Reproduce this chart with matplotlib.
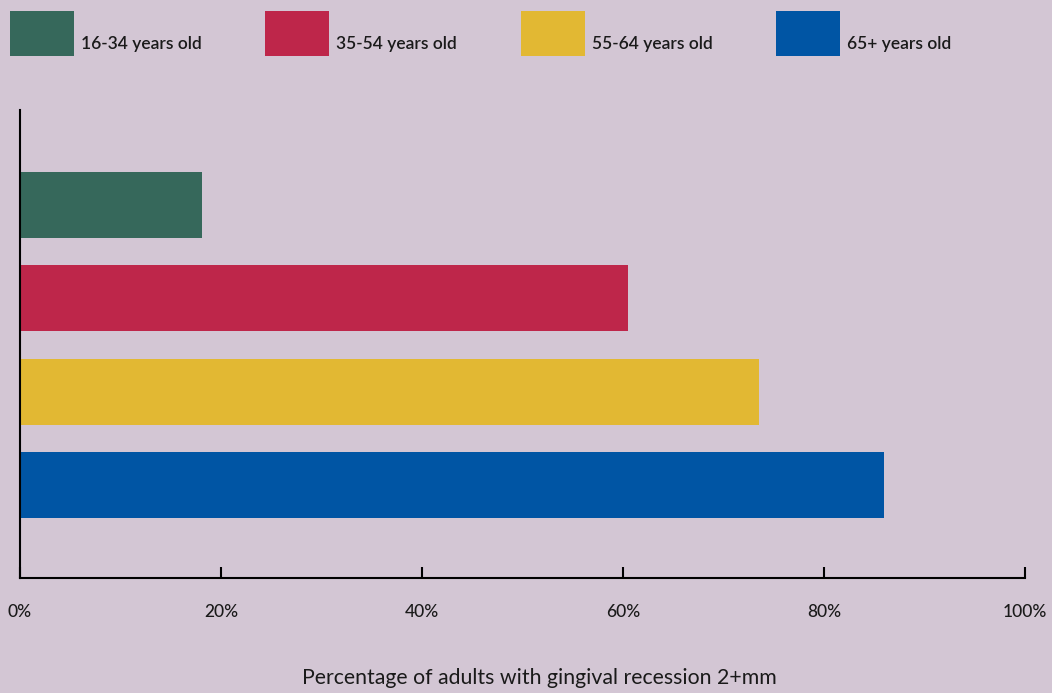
import matplotlib.pyplot as plt
from matplotlib.patches import Rectangle

# Share of adults with gingival recession of 2mm or more, by age group
age_groups = ['16-34 years old', '35-54 years old', '55-64 years old', '65+ years old']
percentages = [18.1, 60.5, 73.5, 86.0]
colors = ['#36685b', '#be264a', '#e2b833', '#0055a4']
x_ticks = [0, 20, 40, 60, 80, 100]
x_tick_labels = ['0%', '20%', '40%', '60%', '80%', '100%']

bg = '#d3c6d4'
plt.rcParams['font.family'] = ['Lato', 'DejaVu Sans']

fig = plt.figure(figsize=(10.52, 6.93), dpi=100, facecolor=bg)
ax = fig.add_axes([20 / 1052, 115 / 693, 1005 / 1052, 468 / 693])
ax.set_facecolor(bg)

ypos = list(range(len(age_groups)))
ax.barh(ypos, percentages, height=0.707, color=colors)
ax.set_xlim(0, 100)
ax.set_ylim(4.0, -1.02)

ax.spines['top'].set_visible(False)
ax.spines['right'].set_visible(False)
ax.spines['left'].set_linewidth(1.5)
ax.spines['bottom'].set_linewidth(1.5)
ax.set_yticks([])
ax.set_xticks(x_ticks)
ax.set_xticklabels(x_tick_labels, fontsize=12.5, color='#1a1a1a', fontweight='medium')
ax.tick_params(axis='x', direction='in', length=8, width=1.5, pad=19)

# axis title placed in figure coords
fig.text(539 / 1052, (693 - 678) / 693,
         'Percentage of adults with gingival recession 2+mm',
         fontsize=15.3, color='#1a1a1a', ha='center', va='center')

# legend drawn as figure patches
legend_x = [10, 265, 521, 776]
for lx, label, c in zip(legend_x, age_groups, colors):
    fig.patches.append(Rectangle((lx / 1052, (693 - 56) / 693), 64 / 1052, 45 / 693,
                                 transform=fig.transFigure, facecolor=c, edgecolor='none'))
    fig.text((lx + 71) / 1052, (693 - 44) / 693, label, fontsize=12.5,
             fontweight='semibold', color='#1a1a1a', va='center', ha='left')

fig.savefig('out.png', dpi=100, facecolor=bg)
